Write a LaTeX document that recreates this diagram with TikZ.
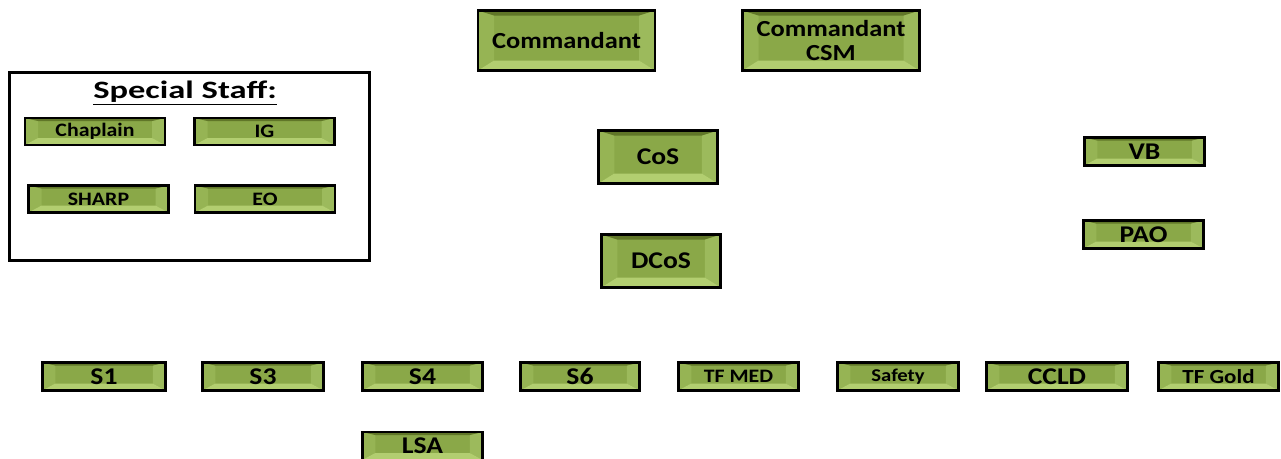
\documentclass[tikz,border=0pt]{standalone}
\usepackage{fontspec}
\usepackage{graphicx}
\setmainfont[FakeStretch=1.15]{Carlito}
\usetikzlibrary{calc}
\definecolor{facegreen}{RGB}{138,168,72}
\definecolor{topgreen}{RGB}{96,118,40}
\definecolor{botgreen}{RGB}{178,206,112}
\definecolor{leftgreen}{RGB}{150,180,84}
\definecolor{rightgreen}{RGB}{156,186,92}
\def\bvx{16pt}
\def\bvt{5pt}
\def\bvb{10pt}
\tikzset{
  bevel/.style={draw=black, line width=2.6pt, fill=facegreen, inner sep=0pt, align=center,
    path picture={
      \fill[leftgreen] let \p1=(path picture bounding box.north west), \p2=(path picture bounding box.south east) in
        (\x1,\y1)--(\x1+\bvx,\y1-\bvt)--(\x1+\bvx,\y2+\bvb)--(\x1,\y2)--cycle;
      \fill[rightgreen] let \p1=(path picture bounding box.north west), \p2=(path picture bounding box.south east) in
        (\x2,\y1)--(\x2-\bvx,\y1-\bvt)--(\x2-\bvx,\y2+\bvb)--(\x2,\y2)--cycle;
      \fill[topgreen] let \p1=(path picture bounding box.north west), \p2=(path picture bounding box.south east) in
        (\x1,\y1)--(\x2,\y1)--(\x2-\bvx,\y1-\bvt)--(\x1+\bvx,\y1-\bvt)--cycle;
      \fill[botgreen] let \p1=(path picture bounding box.north west), \p2=(path picture bounding box.south east) in
        (\x1,\y2)--(\x2,\y2)--(\x2-\bvx,\y2+\bvb)--(\x1+\bvx,\y2+\bvb)--cycle;
    }},
  fs/.style={font=\fontsize{#1}{24}\selectfont\bfseries},
  bigbox/.style={bevel, minimum width=177pt, minimum height=60pt},
  midbox/.style={bevel, minimum width=119.5pt, minimum height=53pt},
  smallbox/.style={bevel, minimum width=140pt, minimum height=27pt},
  rowbox/.style={bevel, minimum width=#1pt, minimum height=28pt},
  frame/.style={draw=black, line width=2.8pt}
}
\begin{document}
\begin{tikzpicture}[x=1pt,y=-1pt]
  \useasboundingbox (0,0) rectangle (1281,458);
  % top of the chart
  \node[bigbox,fs=23] (cmd) at (566.5,40.5) {Commandant};
  \node[bigbox,fs=23] (csm) at (831,40.5) {Commandant\\CSM};
  \node[midbox,fs=24] (cos) at (658,157) {CoS};
  \node[midbox,fs=24] (dcos) at (661,261) {DCoS};
  % special staff
  \draw[frame] (9.5,72.5) rectangle (369.5,260.5);
  \node[fs=25] (title) at (185,93) {\scalebox{1.2}[1]{\underline{Special Staff:}}};
  \def\bvx{13pt}\def\bvt{3pt}\def\bvb{7pt}
  \node[smallbox,fs=19] (chap) at (95,131.5) {Chaplain};
  \node[smallbox,fs=19] (ig) at (264.5,131.5) {IG};
  \node[smallbox,fs=19] (sharp) at (98.5,199) {SHARP};
  \node[smallbox,fs=19] (eo) at (265,199) {EO};
  % right side
  \node[rowbox=120.5,fs=24] (vb) at (1144.5,151.5) {VB};
  \node[rowbox=120.5,fs=24] (pao) at (1143.5,234.5) {PAO};
  % staff sections
  \foreach \n/\x/\w/\s/\t in {s1/104/123.5/24/S1, s3/263/121.5/24/S3, s4/422.5/120.5/24/S4,
      s6/580/119.5/24/S6, tfmed/738.5/120.5/19/TF MED, safety/898/121.5/18/Safety,
      ccld/1057/141.5/24/CCLD, tfgold/1218.5/120.5/20/TF Gold}{
    \node[rowbox=\w,fs=\s] (\n) at (\x,376.5) {\t};
  }
  \node[rowbox=120.5,fs=24] (lsa) at (422.5,446) {LSA};
\end{tikzpicture}
\end{document}
